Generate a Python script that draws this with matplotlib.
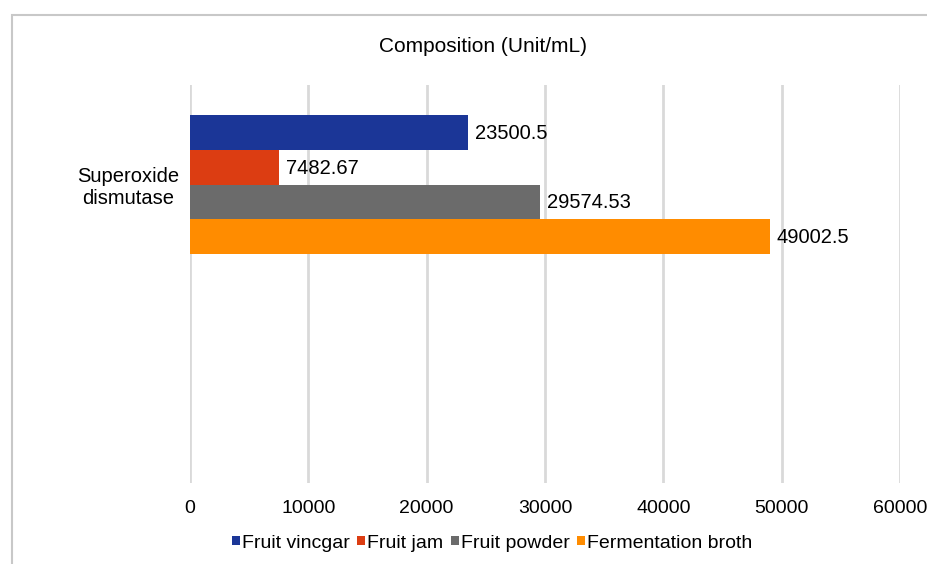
import matplotlib
matplotlib.use("Agg")
import matplotlib.pyplot as plt
from matplotlib.patches import Rectangle
import numpy as np

plt.rcParams['font.family'] = ['Liberation Sans', 'DejaVu Sans']

categories = ["Superoxide\ndismutase", ""]
series = ["Fruit vincgar", "Fruit jam", "Fruit powder", "Fermentation broth"]
values = [23500.5, 7482.67, 29574.53, 49002.5]
labels = ["23500.5", "7482.67", "29574.53", "49002.5"]
colors = ["#1b3697", "#dc3d12", "#6b6b6b", "#ff8c00"]
xticks = [0, 10000, 20000, 30000, 40000, 50000, 60000]

W, H = 928, 564
fig = plt.figure(figsize=(W/100, H/100), dpi=100)

# outer border
fig.patches.append(Rectangle((12/W, -0.1), 1.2, 1 - 15/H + 0.1, transform=fig.transFigure,
                             fill=False, edgecolor="#c8c8c8", linewidth=1.5))

ax = fig.add_axes([190/W, 1 - 483/H, (900-190)/W, (483-85)/H])
bh = 0.175
for i, (s, v, c) in enumerate(zip(series, values, colors)):
    y = 0 - 2*bh + bh/2 + i*bh
    ax.barh([y], [v], height=bh, color=c, label=s, zorder=3)
    ax.text(v + 600, y + 0.005, labels[i], va='center', ha='left', fontsize=14.5, color='black')

ax.set_ylim(1.5, -0.5)
ax.set_xlim(0, 60000)
ax.set_yticks([0, 1])
ax.set_yticklabels(categories, fontsize=14.5, multialignment='center')
ax.set_xticks(xticks)
ax.set_xticklabels([str(t) for t in xticks], fontsize=14)
ax.tick_params(axis='y', length=0, pad=8)
ax.tick_params(axis='x', length=0, pad=12)
ax.grid(axis='x', color='#d9d9d9', linewidth=2, zorder=0)
for sp in ax.spines.values():
    sp.set_visible(False)

fig.text(483/W, 1 - 47/H, "Composition (Unit/mL)", ha='center', va='center', fontsize=15)

fig.legend(loc='center', bbox_to_anchor=(492/W, 1 - 543/H), ncol=4, frameon=False,
           fontsize=14, handlelength=0.4, handleheight=0.4, handletextpad=0.1,
           columnspacing=0.4)

fig.savefig("out.png", dpi=100)
